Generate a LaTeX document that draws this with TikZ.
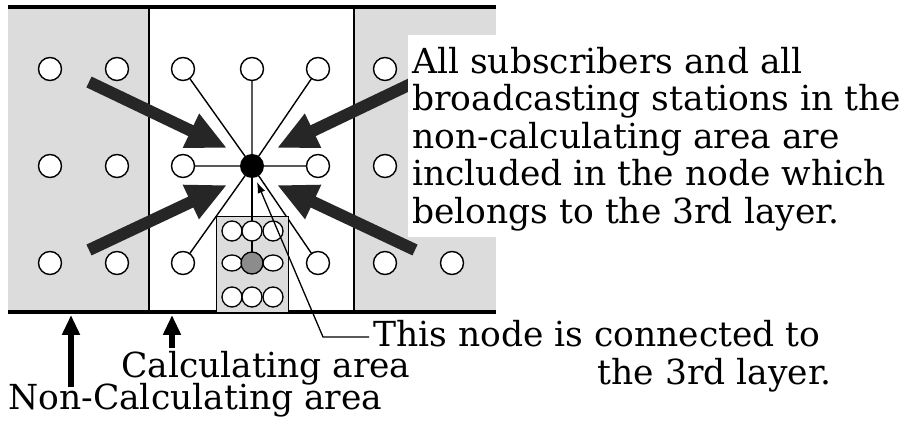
\documentclass[tikz,border=0pt]{standalone}
\usepackage{fontspec}
\setmainfont{DejaVu Serif}
\usetikzlibrary{arrows.meta,calc,shapes.geometric}
\definecolor{areagray}{RGB}{220,220,220}
\definecolor{arrowdark}{RGB}{38,38,38}
\definecolor{midgray}{RGB}{140,140,140}
\begin{document}
\begin{tikzpicture}[x=1pt,y=-1pt,
  sub/.style={circle,draw,fill=white,line width=1.4pt,minimum size=23pt,inner sep=0pt},
  small/.style={circle,draw,fill=white,line width=1.3pt,minimum size=20pt,inner sep=0pt},
  smallell/.style={ellipse,draw,fill=white,line width=1.3pt,minimum width=20pt,minimum height=16pt,inner sep=0pt},
  spoke/.style={line width=1.4pt},
  bigarrow/.style={draw=arrowdark,line width=12pt,-{Triangle[length=40pt,width=35pt]},fill=arrowdark},
  lbl/.style={font=\fontsize{34.5}{37.5}\selectfont,inner sep=0pt},
  uparrow/.style={line width=6pt,-{Triangle[length=20pt,width=17pt]}}
]
\useasboundingbox (0,0) rectangle (908,427);
% areas
\fill[areagray] (8,7) rectangle (496,312);
\fill[white] (149,7) rectangle (354,312);
\draw[line width=1.2pt] (149,7) -- (149,312) (354,7) -- (354,312);
\draw[line width=3.5pt] (8,7) -- (496,7) (8,312) -- (496,312);
% center node position
\coordinate (cpos) at (252,166);
% subscribers
\node[sub] (a1) at (50,69) {};
\node[sub] (a2) at (117,69) {};
\node[sub] (a6) at (385,69) {};
\node[sub] (b1) at (50,166) {};
\node[sub] (b2) at (117,166) {};
\node[sub] (b6) at (385,166) {};
\node[sub] (d1) at (50,263) {};
\node[sub] (d2) at (117,263) {};
\node[sub] (d6) at (385,263) {};
\node[sub] (d7) at (452,263) {};
\draw[spoke] (cpos) -- (183,69) (cpos) -- (252,69) (cpos) -- (318,69) (cpos) -- (183,166) (cpos) -- (318,166) (cpos) -- (183,263) (cpos) -- (318,263);
\node[sub] (a3) at (183,69) {};
\node[sub] (a4) at (252,69) {};
\node[sub] (a5) at (318,69) {};
\node[sub] (b3) at (183,166) {};
\node[sub] (b5) at (318,166) {};
\node[sub] (d3) at (183,263) {};
\node[sub] (d5) at (318,263) {};
% small box
\node[draw,fill=areagray,line width=1.2pt,minimum width=72pt,minimum height=96pt,inner sep=0pt,anchor=north west] (box) at (216,216) {};
\draw[spoke] (cpos) -- (252,263);
\node[small] (s1) at (232,231) {};
\node[small] (s2) at (252,231) {};
\node[small] (s3) at (273,231) {};
\node[smallell] (s4) at (232,263) {};
\node[smallell] (s6) at (273,263) {};
\node[circle,draw,fill=midgray,line width=1.3pt,minimum size=22pt,inner sep=0pt] (s5) at (252,263) {};
\node[small] (s7) at (232,297) {};
\node[small] (s8) at (252,297) {};
\node[small] (s9) at (273,297) {};
\draw[spoke] (s2) -- (s5);
\node[circle,fill=black,minimum size=24pt,inner sep=0pt] (c) at (cpos) {};
% big arrows
\coordinate (t1) at (89,82);  \coordinate (h1) at (227,148);
\coordinate (t2) at (415,82); \coordinate (h2) at (277,148);
\coordinate (t3) at (89,250); \coordinate (h3) at (227,185);
\coordinate (t4) at (415,250);\coordinate (h4) at (277,185);
\draw[bigarrow] (t1) -- (h1);
\draw[bigarrow] (t2) -- (h2);
\draw[bigarrow] (t3) -- (h3);
\draw[bigarrow] (t4) -- (h4);
% explanation text
\node[fill=white,anchor=north west,minimum width=500pt,minimum height=202pt,inner sep=0pt] (wbox) at (408,35) {};
\node[lbl,anchor=north west,align=left] (expl) at (412,47)
  {All subscribers and all\\broadcasting stations in the\\non-calculating area are\\included in the node which\\belongs to the 3rd layer.};
% pointer
\node[lbl,anchor=base west] (conn) at (373,347) {This node is connected to};
\node[lbl,anchor=base east] (conn2) at (832,385) {the 3rd layer.};
\coordinate (pstart) at (369,337);
\coordinate (corner) at (323,337);
\coordinate (ptip) at (257,182);
\draw[line width=1.3pt,-{Latex[length=11pt,width=8pt]}] (pstart) -- (corner) -- (ptip);
% area labels
\node[lbl,anchor=base west] (cal) at (121,378) {Calculating area};
\node[lbl,anchor=base west] (ncal) at (8,410) {Non-Calculating area};
\coordinate (ua1) at (71,315);
\coordinate (ua2) at (172,315);
\draw[uparrow] (71,387) -- (ua1);
\draw[uparrow] (172,348) -- (ua2);
\end{tikzpicture}
\end{document}
